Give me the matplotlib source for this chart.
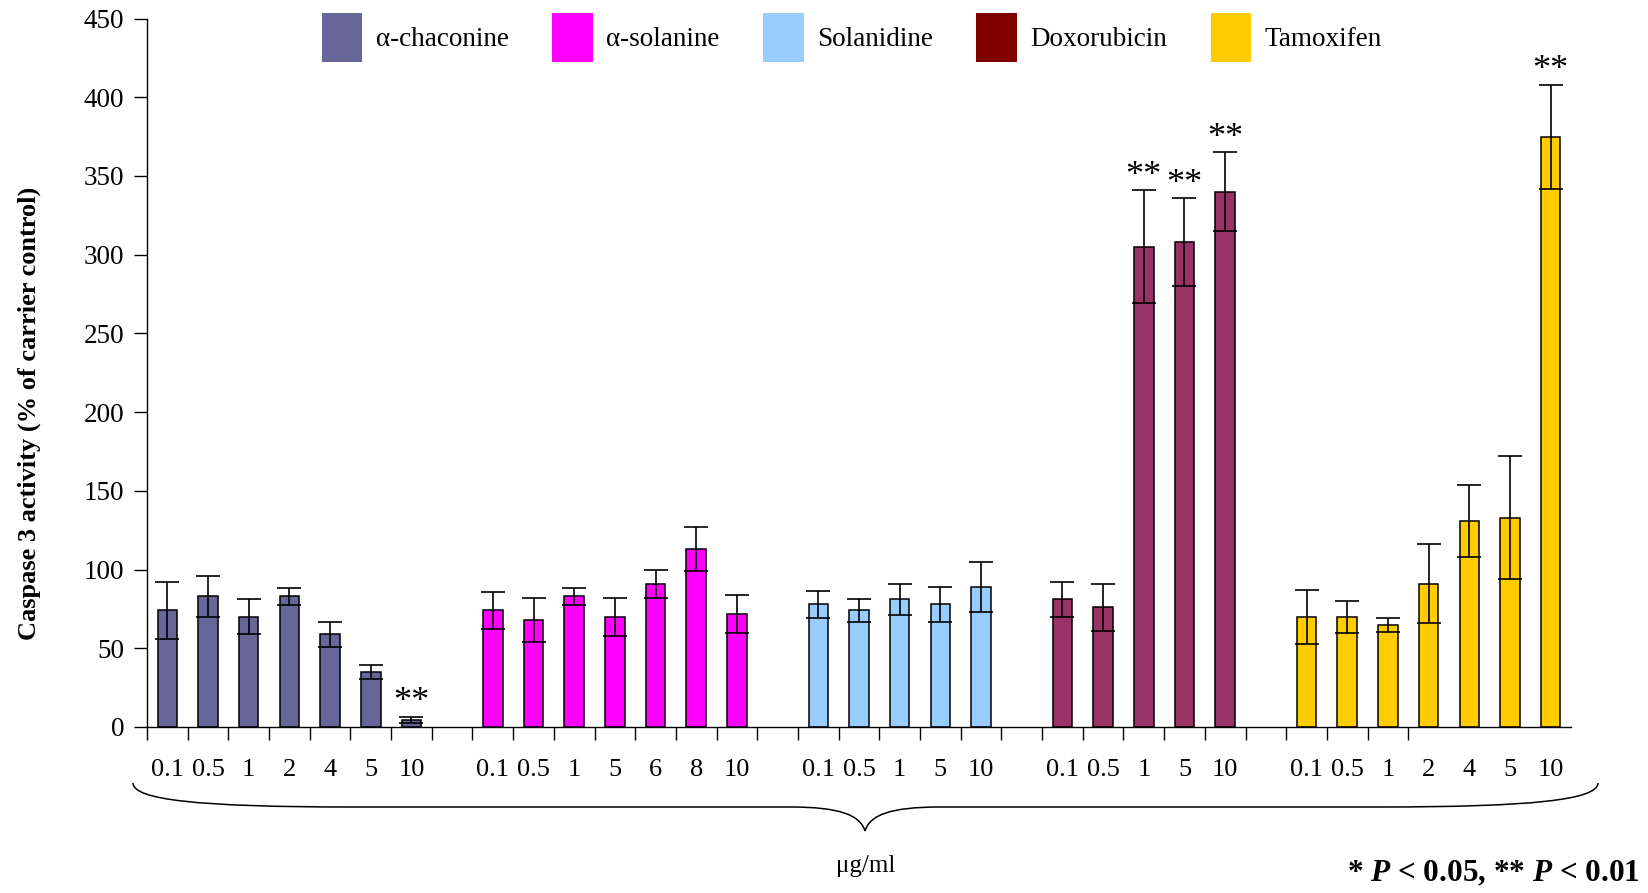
import numpy as np
import matplotlib
matplotlib.use("Agg")
import matplotlib.pyplot as plt
from matplotlib.patches import Patch, PathPatch
from matplotlib.path import Path

plt.rcParams['font.family'] = ['Liberation Serif', 'DejaVu Serif']
plt.rcParams['mathtext.fontset'] = 'custom'
plt.rcParams['mathtext.rm'] = 'Liberation Serif:bold'
plt.rcParams['mathtext.it'] = 'Liberation Serif:italic:bold'
plt.rcParams['mathtext.bf'] = 'Liberation Serif:bold'

# data
groups = ['α-chaconine', 'α-solanine', 'Solanidine', 'Doxorubicin', 'Tamoxifen']
bar_colors = ['#666699', '#FF00FF', '#99CCFF', '#993366', '#FFCC00']
legend_colors = ['#666699', '#FF00FF', '#99CCFF', '#800000', '#FFCC00']

chaconine_dose = ['0.1', '0.5', '1', '2', '4', '5', '10']
chaconine_mean = [74, 83, 70, 83, 59, 35, 4.5]
chaconine_sd = [18, 13, 11, 5.5, 8, 4.5, 2]
chaconine_sig = [0, 0, 0, 0, 0, 0, 1]

solanine_dose = ['0.1', '0.5', '1', '5', '6', '8', '10']
solanine_mean = [74, 68, 83, 70, 91, 113, 72]
solanine_sd = [12, 14, 5.5, 12, 9, 14, 12]
solanine_sig = [0, 0, 0, 0, 0, 0, 0]

solanidine_dose = ['0.1', '0.5', '1', '5', '10']
solanidine_mean = [78, 74, 81, 78, 89]
solanidine_sd = [8.5, 7.5, 10, 11, 16]
solanidine_sig = [0, 0, 0, 0, 0]

doxorubicin_dose = ['0.1', '0.5', '1', '5', '10']
doxorubicin_mean = [81, 76, 305, 308, 340]
doxorubicin_sd = [11, 15, 36, 28, 25]
doxorubicin_sig = [0, 0, 1, 1, 1]

tamoxifen_dose = ['0.1', '0.5', '1', '2', '4', '5', '10']
tamoxifen_mean = [70, 70, 65, 91, 131, 133, 375]
tamoxifen_sd = [17, 10, 4.5, 25, 23, 39, 33]
tamoxifen_sig = [0, 0, 0, 0, 0, 0, 1]

doses = [chaconine_dose, solanine_dose, solanidine_dose, doxorubicin_dose, tamoxifen_dose]
means = [chaconine_mean, solanine_mean, solanidine_mean, doxorubicin_mean, tamoxifen_mean]
sds = [chaconine_sd, solanine_sd, solanidine_sd, doxorubicin_sd, tamoxifen_sd]
sigs = [chaconine_sig, solanine_sig, solanidine_sig, doxorubicin_sig, tamoxifen_sig]

W, H = 1648, 893
fig = plt.figure(figsize=(W / 100, H / 100), dpi=100)
ax = fig.add_axes([147 / W, 1 - 727 / H, 1424 / W, 708.5 / H])

def px(x, y):
    return (x / W, 1 - y / H)

pos = 0
all_x = []
all_lab = []
for g in range(len(groups)):
    x = np.arange(pos, pos + len(means[g]))
    ax.bar(x, means[g], width=0.48, color=bar_colors[g], edgecolor='black',
           linewidth=1.1, zorder=2)
    ax.errorbar(x, means[g], yerr=sds[g], fmt='none', ecolor='black',
                elinewidth=1.2, capsize=8.3, capthick=1.2, zorder=3)
    for xi, m, s, flag in zip(x, means[g], sds[g], sigs[g]):
        if flag:
            ax.annotate('**', xy=(xi, m + s), xytext=(0, 10), textcoords='offset points',
                        ha='center', va='center', fontsize=26)
    all_x += list(x)
    all_lab += doses[g]
    pos += len(means[g]) + 1

ax.set_xlim(-0.5, pos - 1.5)
ax.set_ylim(0, 450)
ax.set_yticks(np.arange(0, 451, 50))
ax.tick_params(axis='y', direction='out', length=9.4, width=1, labelsize=19.5, pad=7)

# ticks between categories, labels under bars
ax.set_xticks(np.arange(-0.5, 31, 1))
ax.set_xticklabels([])
ax.set_xticks(all_x, minor=True)
ax.set_xticklabels(all_lab, minor=True)
ax.tick_params(axis='x', which='major', direction='out', length=9.4, width=1)
ax.tick_params(axis='x', which='minor', length=0, labelsize=19, pad=23)

for side in ['top', 'right']:
    ax.spines[side].set_visible(False)
ax.spines['left'].set_linewidth(1)
ax.spines['bottom'].set_linewidth(1)

fig.text(29 / W, 1 - 413 / H, 'Caspase 3 activity (% of carrier control)', rotation=90,
         ha='center', va='center', fontsize=19, fontweight='bold')

handles = [Patch(facecolor=c, edgecolor='none') for c in legend_colors]
fig.legend(handles, groups, loc='upper center', bbox_to_anchor=(0.517, 1 - 13 / H),
           ncol=5, frameon=False, fontsize=19.5, handlelength=1.5, handleheight=2.4,
           handletextpad=0.5, columnspacing=1.6, borderpad=0, borderaxespad=0)

# curly brace under the dose labels
verts = [px(133, 783), px(133, 800), px(200, 807), px(350, 807),
         px(790, 807),
         px(840, 807), px(860, 815), px(865, 831),
         px(870, 815), px(890, 807), px(940, 807),
         px(1380, 807),
         px(1530, 807), px(1598, 800), px(1598, 783)]
codes = [Path.MOVETO, Path.CURVE4, Path.CURVE4, Path.CURVE4,
         Path.LINETO,
         Path.CURVE4, Path.CURVE4, Path.CURVE4,
         Path.CURVE4, Path.CURVE4, Path.CURVE4,
         Path.LINETO,
         Path.CURVE4, Path.CURVE4, Path.CURVE4]
fig.patches.append(PathPatch(Path(verts, codes), transform=fig.transFigure,
                             facecolor='none', edgecolor='black', linewidth=1.1))

fig.text(866 / W, 1 - 866 / H, 'μg/ml', ha='center', va='center', fontsize=18)
fig.text(1640 / W, 1 - 874 / H, '* $P$ < 0.05, ** $P$ < 0.01',
         ha='right', va='center', fontsize=22.5, fontweight='bold')

fig.savefig('out.png', dpi=100)
